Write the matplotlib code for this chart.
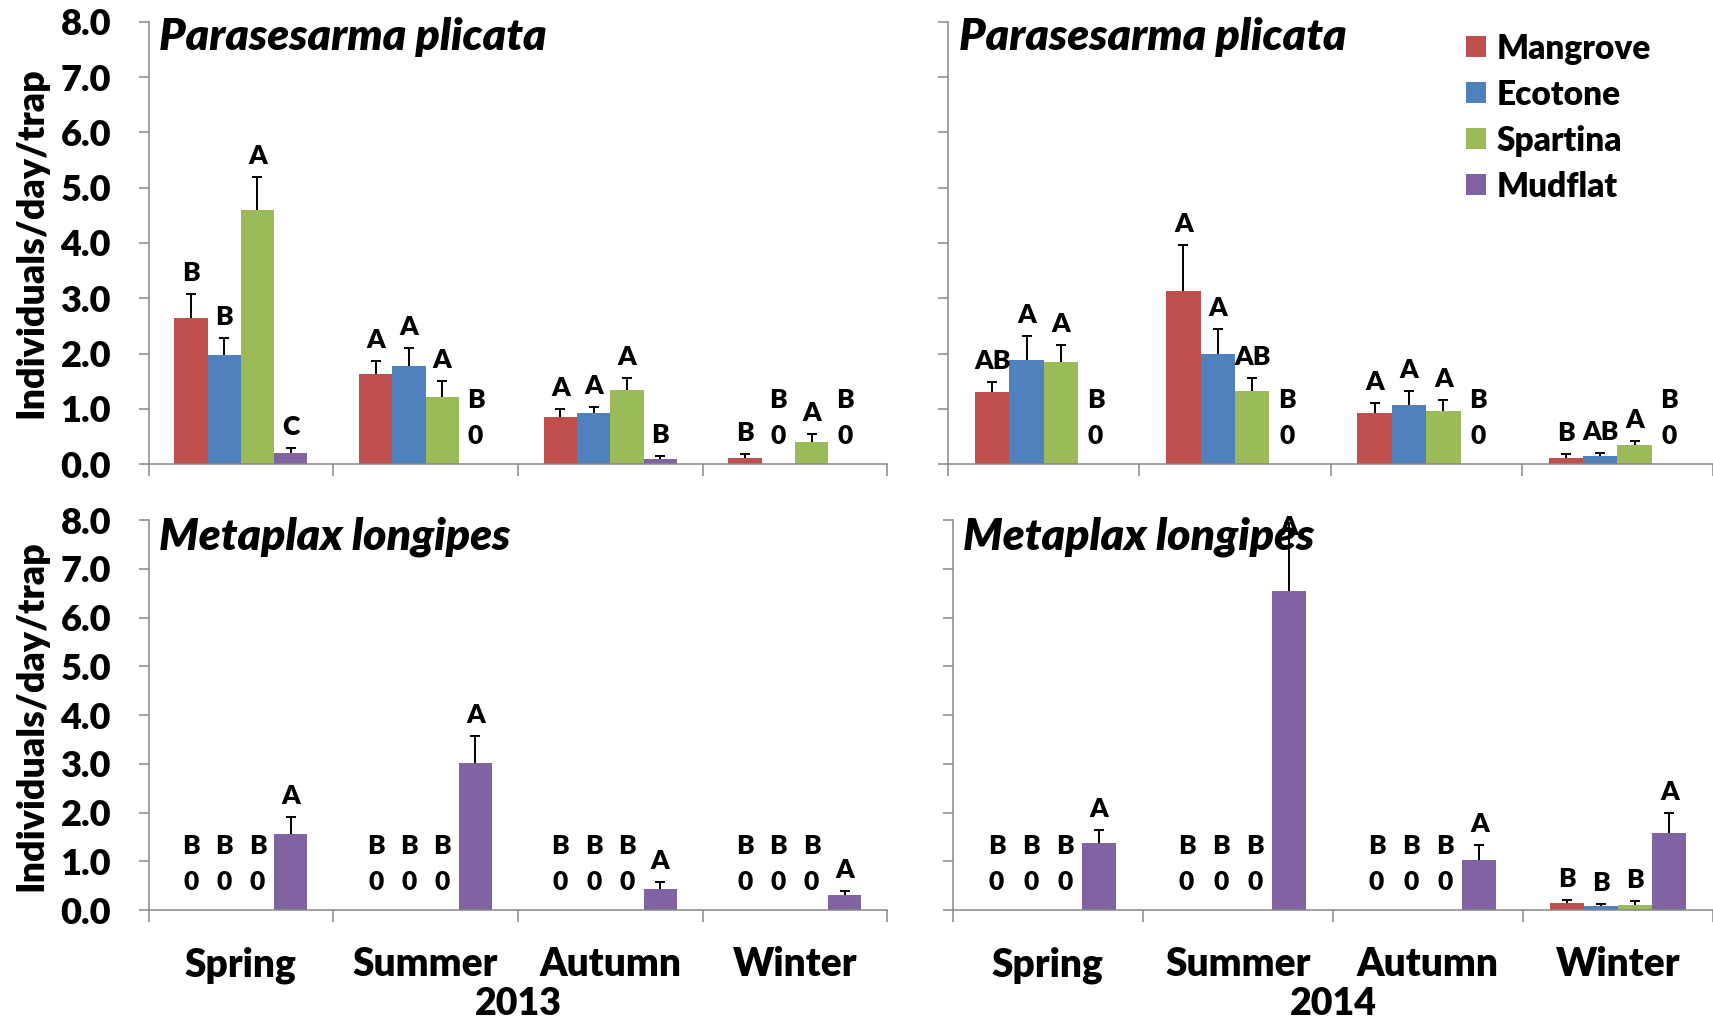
import numpy as np
import matplotlib
matplotlib.use('Agg')
import matplotlib.pyplot as plt
from matplotlib.patches import Patch

plt.rcParams['font.family'] = ['Lato', 'DejaVu Sans']
plt.rcParams['font.weight'] = 'heavy'
WT = 'heavy'

# Data
seasons = ['Spring', 'Summer', 'Autumn', 'Winter']
habitats = ['Mangrove', 'Ecotone', 'Spartina', 'Mudflat']
colors = ['#C0504D', '#4F81BD', '#9BBB59', '#8064A2']

# Parasesarma plicata, 2013 (rows: habitat, cols: season)
pp13_mean = [[2.64, 1.63, 0.85, 0.12],
             [1.97, 1.78, 0.92, 0.0],
             [4.60, 1.21, 1.35, 0.41],
             [0.21, 0.0, 0.09, 0.0]]
pp13_err = [[0.44, 0.23, 0.15, 0.07],
            [0.31, 0.32, 0.12, 0.0],
            [0.60, 0.29, 0.20, 0.13],
            [0.08, 0.0, 0.06, 0.0]]
pp13_sig = [['B', 'A', 'A', 'B'],
            ['B', 'A', 'A', 'B'],
            ['A', 'A', 'A', 'A'],
            ['C', 'B', 'B', 'B']]

# Parasesarma plicata, 2014
pp14_mean = [[1.30, 3.13, 0.93, 0.12],
             [1.88, 1.99, 1.07, 0.15],
             [1.84, 1.32, 0.97, 0.35],
             [0.0, 0.0, 0.0, 0.0]]
pp14_err = [[0.19, 0.84, 0.18, 0.06],
            [0.43, 0.46, 0.26, 0.06],
            [0.31, 0.24, 0.20, 0.07],
            [0.0, 0.0, 0.0, 0.0]]
pp14_sig = [['AB', 'A', 'A', 'B'],
            ['A', 'A', 'A', 'AB'],
            ['A', 'AB', 'A', 'A'],
            ['B', 'B', 'B', 'B']]

# Metaplax longipes, 2013
ml13_mean = [[0.0, 0.0, 0.0, 0.0],
             [0.0, 0.0, 0.0, 0.0],
             [0.0, 0.0, 0.0, 0.0],
             [1.56, 3.02, 0.43, 0.30]]
ml13_err = [[0.0, 0.0, 0.0, 0.0],
            [0.0, 0.0, 0.0, 0.0],
            [0.0, 0.0, 0.0, 0.0],
            [0.35, 0.56, 0.15, 0.09]]
ml13_sig = [['B', 'B', 'B', 'B'],
            ['B', 'B', 'B', 'B'],
            ['B', 'B', 'B', 'B'],
            ['A', 'A', 'A', 'A']]

# Metaplax longipes, 2014
ml14_mean = [[0.0, 0.0, 0.0, 0.15],
             [0.0, 0.0, 0.0, 0.08],
             [0.0, 0.0, 0.0, 0.11],
             [1.37, 6.55, 1.03, 1.59]]
ml14_err = [[0.0, 0.0, 0.0, 0.06],
            [0.0, 0.0, 0.0, 0.04],
            [0.0, 0.0, 0.0, 0.07],
            [0.28, 1.40, 0.30, 0.40]]
ml14_sig = [['B', 'B', 'B', 'B'],
            ['B', 'B', 'B', 'B'],
            ['B', 'B', 'B', 'B'],
            ['A', 'A', 'A', 'A']]

years = ['2013', '2014']

W, H = 1713, 1018
fig = plt.figure(figsize=(W / 100, H / 100), dpi=100)

spine_col = '#878787'
bar_w = 0.18
ymax = 8.0

panels = [
    ([0.0867, 0.544, 0.4313, 0.4346], 'Parasesarma plicata', pp13_mean, pp13_err, pp13_sig, True, False),
    ([0.5536, 0.544, 0.4464, 0.4346], 'Parasesarma plicata', pp14_mean, pp14_err, pp14_sig, False, False),
    ([0.0867, 0.106, 0.4313, 0.383], 'Metaplax longipes', ml13_mean, ml13_err, ml13_sig, True, True),
    ([0.5562, 0.106, 0.4438, 0.383], 'Metaplax longipes', ml14_mean, ml14_err, ml14_sig, False, True),
]

for k, (rect, species, mean, err, sig, left, bottom) in enumerate(panels):
    ax = fig.add_axes(rect)
    mean = np.array(mean)
    err = np.array(err)
    x = np.arange(len(seasons))
    px_per_unit = rect[3] * H / ymax

    for j, hab in enumerate(habitats):
        xs = x + (j - 1.5) * bar_w
        ax.bar(xs, mean[j], width=bar_w, color=colors[j], zorder=2)
        has = mean[j] > 0
        if has.any():
            eb = ax.errorbar(xs[has], mean[j][has],
                             yerr=[np.zeros(has.sum()), err[j][has]],
                             fmt='none', ecolor='black', elinewidth=1.4,
                             capsize=3.8, capthick=1.4, zorder=3)
            eb[1][0].set_visible(False)
        for i in range(len(seasons)):
            if mean[j][i] > 0:
                top = mean[j][i] + err[j][i]
                ly = min(top + 21 / px_per_unit, 7.86)
                ax.text(xs[i], ly, sig[j][i], ha='center', va='center',
                        fontsize=19, fontweight=WT, zorder=4)
            else:
                ax.text(xs[i], 28 / px_per_unit, '0', ha='center', va='center',
                        fontsize=19, fontweight=WT, zorder=4)
                ax.text(xs[i], 64 / px_per_unit, sig[j][i], ha='center', va='center',
                        fontsize=19, fontweight=WT, zorder=4)

    ax.set_xlim(-0.5, len(seasons) - 0.5)
    ax.set_ylim(0, ymax)
    ax.set_yticks(np.arange(0, 9, 1))
    if left:
        ax.set_yticklabels([f'{v:.1f}' for v in np.arange(0, 9, 1)], fontsize=26, fontweight=WT)
        ax.set_ylabel('Individuals/day/trap', fontsize=27, fontweight=WT)
        ax.yaxis.set_label_coords(-0.136, 0.5)
    else:
        ax.set_yticklabels([])
    ax.tick_params(axis='y', direction='out', length=7, width=1.1, color=spine_col, pad=20)

    ax.set_xticks(np.arange(-0.5, len(seasons)), labels=[])
    ax.tick_params(axis='x', which='major', direction='out', length=8.5, width=1.1, color=spine_col)
    if bottom:
        ax.set_xticks(x, labels=seasons, minor=True)
        ax.tick_params(axis='x', which='minor', length=0, pad=26, labelsize=28)
        for t in ax.get_xticklabels(minor=True):
            t.set_fontweight(WT)
        ax.text(0.5, -0.24, years[k - 2], transform=ax.transAxes, ha='center', va='center',
                fontsize=27, fontweight=WT)

    for s in ['top', 'right']:
        ax.spines[s].set_visible(False)
    for s in ['left', 'bottom']:
        ax.spines[s].set_color(spine_col)
        ax.spines[s].set_linewidth(1.1)

    ax.text(0.014, 1.01, species, transform=ax.transAxes, ha='left', va='top',
            fontsize=32, fontweight=WT, fontstyle='italic', zorder=1)

handles = [Patch(facecolor=c, edgecolor='none') for c in colors]
fig.legend(handles, habitats, loc='upper left', bbox_to_anchor=(0.8558, 0.968),
           frameon=False, handlelength=0.6, handleheight=0.6,
           handletextpad=0.33, labelspacing=0.42, borderpad=0, borderaxespad=0,
           prop={'weight': WT, 'size': 24})

fig.savefig('out.png', dpi=100)
